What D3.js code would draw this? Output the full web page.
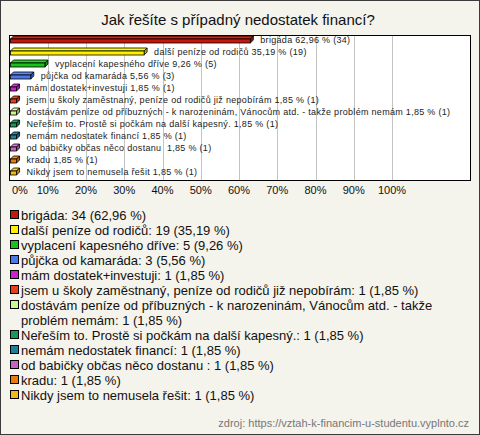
<!DOCTYPE html>
<html>
<head>
<meta charset="utf-8">
<script src="https://cdn.jsdelivr.net/npm/d3@7"></script>
<style>
  html, body { margin: 0; padding: 0; background: #f4f3ec; }
  svg { display: block; }
  text { font-family: "Liberation Sans", Arial, sans-serif; white-space: pre; }
</style>
</head>
<body>
<svg id="chart" width="480" height="435"></svg>
<script>
const title = "Jak řešíte s případný nedostatek financí?";
const categories = [
  "brigáda",
  "další peníze od rodičů",
  "vyplacení kapesného dříve",
  "půjčka od kamaráda",
  "mám dostatek+investuji",
  "jsem u školy zaměstnaný, peníze od rodičů již nepobírám",
  "dostávám peníze od příbuzných - k narozeninám, Vánocům atd. - takže problém nemám",
  "Neřeším to. Prostě si počkám na další kapesný.",
  "nemám nedostatek financí",
  "od babičky občas něco dostanu ",
  "kradu",
  "Nikdy jsem to nemusela řešit"
];
const counts = [34, 19, 5, 3, 1, 1, 1, 1, 1, 1, 1, 1];
const percents = [62.96, 35.19, 9.26, 5.56, 1.85, 1.85, 1.85, 1.85, 1.85, 1.85, 1.85, 1.85];
const colors = ["#c1190c", "#ffee00", "#1cc01c", "#4d79e8", "#cc22cc", "#e8401a",
                "#ccf58a", "#1a9a5a", "#227f99", "#c466c4", "#e87a10", "#f0b818"];
const ticks = [0, 10, 20, 30, 40, 50, 60, 70, 80, 90, 100];
const source = "zdroj: https://vztah-k-financim-u-studentu.vyplnto.cz";

const fmt = v => v.toFixed(2).replace(".", ",");

const svg = d3.select("#chart");
const W = 480, H = 435;

svg.append("rect").attr("x", 0.5).attr("y", 0.5).attr("width", W - 1).attr("height", H - 1)
  .attr("fill", "#f4f3ec").attr("stroke", "#3a3a3a");

svg.append("text").attr("x", 238).attr("y", 25).attr("text-anchor", "middle")
  .attr("font-size", 15).attr("fill", "#111").text(title);

// plot area
const px0 = 9.5, px1 = 470.5, py0 = 35.5, py1 = 180.5;
svg.append("rect").attr("x", px0).attr("y", py0).attr("width", px1 - px0).attr("height", py1 - py0)
  .attr("fill", "#ffffff");

const x = d3.scaleLinear().domain([0, 100]).range([9.5, 392]);
const y = d3.scaleBand().domain(categories).range([34, 178]).padding(0);

svg.append("g").selectAll("line").data(ticks.slice(1)).join("line")
  .attr("x1", d => Math.round(x(d)) + 0.5).attr("x2", d => Math.round(x(d)) + 0.5)
  .attr("y1", py0).attr("y2", py1).attr("stroke", "#c4c4c4");

svg.append("rect").attr("x", px0).attr("y", py0).attr("width", px1 - px0).attr("height", py1 - py0)
  .attr("fill", "none").attr("stroke", "#000");

// 3D bars
const dep = 3, fh = 4;
const bars = svg.append("g").selectAll("g").data(categories).join("g");
bars.each(function(c, i) {
  const g = d3.select(this);
  const cy = y(c) + y.bandwidth() / 2;
  const x0 = x(0) + 1, x1 = x(percents[i]);
  const top = cy - 1;
  const col = d3.color(colors[i]);
  g.append("path")
    .attr("d", `M${x0},${top} L${x0 + dep},${top - dep} L${x1 + dep},${top - dep} L${x1},${top} Z`)
    .attr("fill", col.brighter(0.4)).attr("stroke", "#000").attr("stroke-width", 0.8);
  g.append("path")
    .attr("d", `M${x1},${top} L${x1 + dep},${top - dep} L${x1 + dep},${top - dep + fh} L${x1},${top + fh} Z`)
    .attr("fill", col.darker(0.8)).attr("stroke", "#000").attr("stroke-width", 0.8);
  g.append("rect").attr("x", x0).attr("y", top).attr("width", Math.max(0, x1 - x0)).attr("height", fh)
    .attr("fill", col).attr("stroke", "#000").attr("stroke-width", 0.8);
  g.append("text").attr("x", x1 + 10).attr("y", cy).attr("dy", "0.35em")
    .attr("font-size", 9).attr("letter-spacing", 0.3).attr("fill", "#222")
    .text(`${c} ${fmt(percents[i])} % (${counts[i]})`);
});

// x axis tick labels
svg.append("g").selectAll("text").data(ticks).join("text")
  .attr("x", d => d === 0 ? 12 : x(d))
  .attr("y", 194)
  .attr("text-anchor", d => d === 0 ? "start" : "middle")
  .attr("font-size", 11).attr("fill", "#111")
  .text(d => d + "%");

// legend
const lx = 10, tx = 21, lineH = 15, wrapW = 447;
let ly = 215;
const leg = svg.append("g");
categories.forEach((c, i) => {
  const label = `${c}: ${counts[i]} (${fmt(percents[i])} %)`;
  leg.append("rect").attr("x", lx + 0.5).attr("y", ly - 4.5).attr("width", 8).attr("height", 8)
    .attr("fill", colors[i]).attr("stroke", "#000");
  const t = leg.append("text").attr("x", tx).attr("y", ly).attr("dy", "0.35em")
    .attr("font-size", 13).attr("fill", "#111");
  const words = label.split(" ");
  let line = [];
  let tsp = t.append("tspan").attr("x", tx);
  let nLines = 1;
  words.forEach(w => {
    line.push(w);
    tsp.text(line.join(" "));
    if (tsp.node().getComputedTextLength() > wrapW && line.length > 1) {
      line.pop();
      tsp.text(line.join(" "));
      line = [w];
      tsp = t.append("tspan").attr("x", tx).attr("dy", lineH).text(w);
      nLines++;
    }
  });
  ly += lineH * nLines;
});

svg.append("text").attr("x", 469).attr("y", 427).attr("text-anchor", "end")
  .attr("font-size", 11).attr("fill", "#777").text(source);
</script>
</body>
</html>
